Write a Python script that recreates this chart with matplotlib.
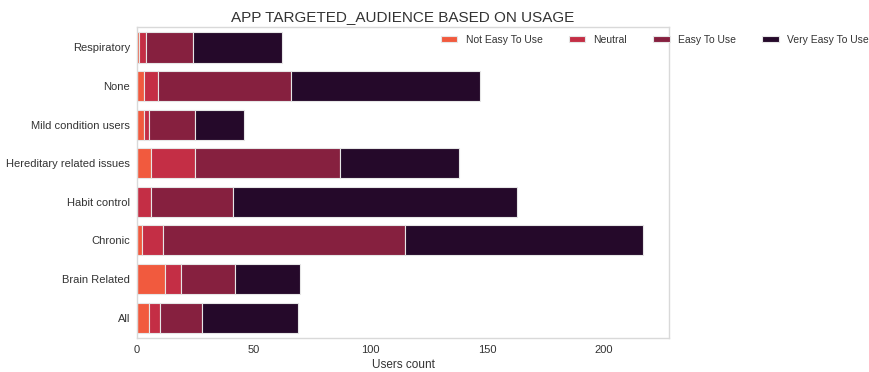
import numpy as np
import matplotlib
matplotlib.use("Agg")
import matplotlib.pyplot as plt

plt.rcParams['font.family'] = ['Liberation Sans', 'DejaVu Sans']

# bottom to top
categories = ["All", "Brain Related", "Chronic", "Habit control",
              "Hereditary related issues", "Mild condition users", "None", "Respiratory"]
not_easy = [5, 12, 2, 0, 6, 3, 3, 1]
neutral = [5, 7, 9, 6, 19, 2, 6, 3]
easy = [18, 23, 104, 35, 62, 20, 57, 20]
very_easy = [41, 28, 102, 122, 51, 21, 81, 38]

series = [("Not Easy To Use", not_easy, "#F15A3E"),
          ("Neutral", neutral, "#C42E45"),
          ("Easy To Use", easy, "#86203F"),
          ("Very Easy To Use", very_easy, "#25092A")]

fig = plt.figure(figsize=(8.7, 3.72), dpi=100)
ax = fig.add_axes([0.1575, 0.0914, 0.6115, 0.836])

y = np.arange(len(categories))
left = np.zeros(len(categories))
for name, vals, col in series:
    ax.barh(y, vals, left=left, height=0.78, color=col, edgecolor="#e6e6e6",
            linewidth=0.8, label=name)
    left += np.array(vals)

ax.set_yticks(y)
ax.set_yticklabels(categories)
ax.set_ylim(-0.53, len(categories) - 0.47)
ax.set_xlim(0, 228)
ax.set_xticks([0, 50, 100, 150, 200])
ax.tick_params(length=0, labelsize=8, colors="#333333", pad=5)
for s in ax.spines.values():
    s.set_color("#d9d9d9")
    s.set_linewidth(1.0)

ax.set_xlabel("Users count", fontsize=8.5, color="#333333", labelpad=3)
ax.set_title("APP TARGETED_AUDIENCE BASED ON USAGE", fontsize=11, color="#333333", pad=4)

ax.legend(loc="upper left", bbox_to_anchor=(0.553, 1.005), ncol=4, frameon=False,
          fontsize=7.5, handlelength=1.6, handleheight=0.5, columnspacing=2.5,
          labelcolor="#333333")

fig.savefig("out.png", dpi=100)
